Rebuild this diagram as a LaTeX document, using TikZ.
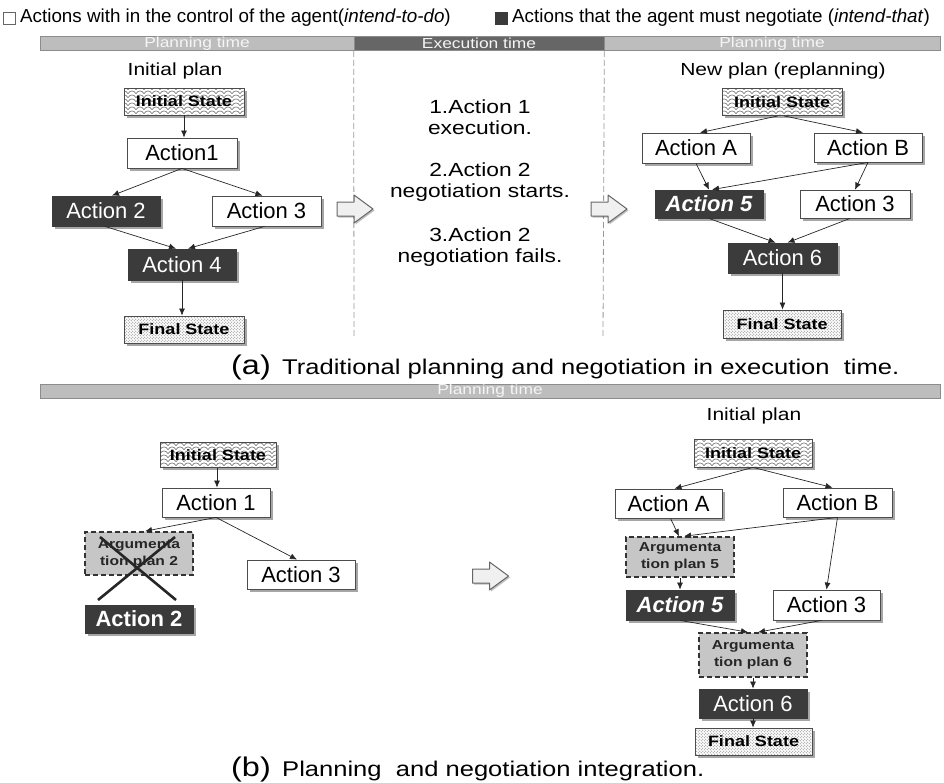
\documentclass[tikz,border=0pt]{standalone}
\usepackage{fontspec}
\setmainfont{Liberation Sans}
\newfontfamily\widefont{Liberation Sans}[FakeStretch=1.2]
\usetikzlibrary{arrows.meta,shadows,patterns}

% wavy hatching for initial states
\pgfdeclarepatternformonly{waves}{\pgfpoint{-1pt}{-1pt}}{\pgfpoint{9pt}{5pt}}{\pgfpoint{8pt}{4pt}}{
  \pgfsetlinewidth{0.7pt}
  \pgfpathmoveto{\pgfpoint{0pt}{0.3pt}}
  \pgfpathcurveto{\pgfpoint{2pt}{4pt}}{\pgfpoint{6pt}{4pt}}{\pgfpoint{8pt}{0.3pt}}
  \pgfusepath{stroke}}
% fine dots for final states
\pgfdeclarepatternformonly{finedots}{\pgfpoint{-1pt}{-1pt}}{\pgfpoint{4pt}{4pt}}{\pgfpoint{3pt}{3pt}}{
  \pgfpathcircle{\pgfpoint{0.75pt}{0.75pt}}{0.55pt}
  \pgfpathcircle{\pgfpoint{2.25pt}{2.25pt}}{0.55pt}
  \pgfusepath{fill}}

\definecolor{darkbox}{HTML}{3B3B3B}
\definecolor{barlight}{HTML}{BDBDBD}
\definecolor{bardark}{HTML}{666666}
\definecolor{argfill}{HTML}{C6C6C6}

\tikzset{
  shade box/.style={drop shadow={shadow xshift=2.5pt,shadow yshift=-2.5pt,opacity=0.35,fill=black}},
  act/.style={draw=black!70, fill=white, line width=0.8pt, minimum width=108pt,
    minimum height=29pt, inner sep=0pt, font=\fontsize{22}{24}\selectfont, shade box},
  neg/.style={act, fill=darkbox, draw=darkbox, text=white},
  negb/.style={neg, font=\fontsize{22}{24}\selectfont\bfseries},
  negbi/.style={neg, font=\fontsize{22}{24}\selectfont\bfseries\itshape},
  state/.style={draw=black!70, line width=0.8pt, minimum width=120pt, minimum height=27pt,
    inner sep=0pt, font=\widefont\fontsize{15}{17}\selectfont\bfseries, shade box,
    preaction={fill=white}},
  initst/.style={state, pattern=waves, pattern color=black!50},
  finalst/.style={state, pattern=finedots, pattern color=black!40},
  argbox/.style={draw=black!80, dashed, dash pattern=on 5pt off 3pt, line width=1.6pt,
    fill=argfill, minimum width=108pt, minimum height=42pt, inner sep=0pt, align=center,
    font=\widefont\fontsize{13}{17}\selectfont\bfseries, text=black!85},
  arr/.style={-{Latex[length=7pt,width=6pt]}, line width=0.7pt, draw=black!85},
  blockarrow/.style={draw=black!60, fill=black!6, line width=1pt, line join=round,
    drop shadow={shadow xshift=1.5pt,shadow yshift=-1.5pt,opacity=0.25,fill=black}},
  bar/.style={draw=black!45, line width=0.6pt, text=white!96!black,
    font=\widefont\fontsize{14.5}{15}\selectfont, inner sep=0pt},
  heading/.style={font=\widefont\fontsize{17.5}{20}\selectfont},
  steptext/.style={font=\widefont\fontsize{19}{21}\selectfont, align=center},
  legendtext/.style={font=\fontsize{18.8}{21}\selectfont, anchor=west, inner sep=0pt},
  captext/.style={font=\widefont\fontsize{21.3}{24}\selectfont, anchor=base west, inner sep=0pt},
  caplabel/.style={font=\widefont\fontsize{27}{30}\selectfont, anchor=base west, inner sep=0pt},
  cross/.style={line width=2.6pt, draw=black!85}
}

% hollow block arrow pointing right, centred on a named coordinate
\newcommand\blockarrowat[1]{%
  \draw[blockarrow] ([shift={(-18pt,-7pt)}]#1) -- ([shift={(-1pt,-7pt)}]#1)
    -- ([shift={(-1pt,-14pt)}]#1) -- ([shift={(18pt,0pt)}]#1)
    -- ([shift={(-1pt,14pt)}]#1) -- ([shift={(-1pt,7pt)}]#1)
    -- ([shift={(-18pt,7pt)}]#1) -- cycle;}

\begin{document}
\begin{tikzpicture}[x=1pt, y=-1pt]
\useasboundingbox (0,0) rectangle (944,782);

% ---- legend ----
\node[draw=black!60, fill=white, minimum size=12pt, inner sep=0pt] (keyA) at (9,18) {};
\node[legendtext] (keyAt) at (20,18) {Actions with in the control of the agent(\textit{intend-to-do})};
\node[draw=darkbox, fill=darkbox, minimum size=12pt, inner sep=0pt] (keyB) at (501,18) {};
\node[legendtext] (keyBt) at (512,18) {Actions that the agent must negotiate (\textit{intend-that})};

% ---- time bar of part (a) ----
\node[bar, fill=barlight, minimum width=314pt, minimum height=14pt] (barA1) at (197,43.5) {Planning time};
\node[bar, fill=bardark, minimum width=250pt, minimum height=14pt] (barA2) at (479,43.5) {Execution time};
\node[bar, fill=barlight, minimum width=336pt, minimum height=14pt] (barA3) at (772,43.5) {Planning time};

\coordinate (sepL) at (354,337);
\coordinate (sepR) at (603,337);
\draw[dashed, dash pattern=on 6pt off 3pt, black!40, line width=0.8pt] (barA2.south west) -- (sepL);
\draw[dashed, dash pattern=on 6pt off 3pt, black!40, line width=0.8pt] (barA2.south east) -- (sepR);

% ---- initial plan ----
\node[heading] (hA) at (175,71) {Initial plan};
\node[initst] (IS1) at (184,101.5) {Initial State};
\node[act, minimum width=110pt, minimum height=30pt] (A1) at (182,153) {Action1};
\node[neg, minimum height=30pt] (A2) at (106,211) {Action 2};
\node[act, minimum width=109pt, minimum height=30pt] (A3) at (266.5,211) {Action 3};
\node[neg, minimum height=31pt] (A4) at (182,264.5) {Action 4};
\node[finalst] (FS1) at (184,329.5) {Final State};

\draw[arr] (IS1) -- (IS1 |- A1.north);
\draw[arr] (A1.south) -- ([xshift=6pt]A2.north);
\draw[arr] (A1.south) -- ([xshift=-4pt]A3.north);
\draw[arr] ([xshift=-1pt]A2.south) -- ([xshift=-6pt]A4.north);
\draw[arr] ([xshift=-2pt]A3.south) -- ([xshift=6pt]A4.north);
\draw[arr] (A4.south) -- (A4.south |- FS1.north);

% ---- execution steps ----
\coordinate (pA) at (355,209);
\blockarrowat{pA}
\node[steptext] (s1) at (480,117) {1.Action 1\\execution.};
\node[steptext] (s2) at (480,182) {2.Action 2\\negotiation starts.};
\node[steptext] (s3) at (480,247) {3.Action 2\\negotiation fails.};
\coordinate (pB) at (609,209);
\blockarrowat{pB}

% ---- new plan ----
\node[heading] (hB) at (783,71) {New plan (replanning)};
\node[initst] (IS2) at (782,102) {Initial State};
\node[act, minimum height=30pt] (AA) at (696,148) {Action A};
\node[act] (AB) at (868,147.5) {Action B};
\node[negbi, minimum height=28pt] (A5) at (709,204) {Action 5};
\node[act, minimum width=110pt, minimum height=28pt] (A3r) at (855,204) {Action 3};
\node[neg, minimum width=109pt, minimum height=30pt] (A6) at (782.5,258) {Action 6};
\node[finalst, minimum width=118pt, minimum height=28pt] (FS2) at (782,324) {Final State};

\draw[arr] ([xshift=-4pt]IS2.south) -- ([xshift=4pt]AA.north);
\draw[arr] ([xshift=2pt]IS2.south) -- ([xshift=-5pt]AB.north);
\draw[arr] (AA.south) -- (A5.north);
\draw[arr] (AB.south) -- ([xshift=3pt]A5.north);
\draw[arr] (AB.south) -- (A3r.north);
\draw[arr] (A5.south) -- ([xshift=-7pt]A6.north);
\draw[arr] ([xshift=-5pt]A3r.south) -- ([xshift=5pt]A6.north);
\draw[arr] (A6.south) -- (A6.south |- FS2.north);

% ---- caption (a) ----
\node[caplabel] (capa) at (231,374) {(a)};
\node[captext] (capat) at (282,374) {Traditional planning and negotiation in execution\ \ time.};

% ---- time bar of part (b) ----
\node[bar, fill=barlight, minimum width=900pt, minimum height=14pt] (barB) at (490,391) {Planning time};

% ---- failed plan ----
\node[initst, minimum width=116pt, minimum height=25pt] (IS3) at (218,455) {Initial State};
\node[act] (B1) at (216,502.5) {Action 1};
\node[argbox, minimum height=43pt] (G2) at (139,553.5) {Argumenta\\tion plan 2};
\node[act] (B3) at (301,574.5) {Action 3};
\node[negb, minimum height=28pt] (B2) at (139,619) {Action 2};

\draw[arr] ([xshift=-1pt]IS3.south) -- ([xshift=-1pt]IS3.south |- B1.north);
\draw[arr] (B1.south) -- ([xshift=6pt]G2.north);
\draw[arr] (B1.south) -- ([xshift=-4pt]B3.north);

% the cancelled branch
\coordinate (xa) at (98,600);
\coordinate (xb) at (175,537);
\coordinate (xc) at (100,537);
\coordinate (xd) at (176,600);
\draw[cross] (xa) -- (xb);
\draw[cross] (xc) -- (xd);

\coordinate (pC) at (490.5,576);
\blockarrowat{pC}

% ---- integrated plan ----
\node[heading] (hC) at (754,416) {Initial plan};
\node[initst, minimum width=118pt, minimum height=28pt] (IS4) at (753,453) {Initial State};
\node[act, minimum width=107pt] (BA) at (668.5,503.5) {Action A};
\node[act, minimum width=109pt] (BB) at (837.5,502.5) {Action B};
\node[argbox, minimum height=40pt] (G5) at (680,557) {Argumenta\\tion plan 5};
\node[negbi, minimum height=30pt] (B5) at (680,605) {Action 5};
\node[act, minimum width=107pt, minimum height=30pt] (B3r) at (826.5,605) {Action 3};
\node[argbox, minimum height=44pt] (G6) at (753,655) {Argumenta\\tion plan 6};
\node[neg] (B6) at (753,703.5) {Action 6};
\node[finalst, minimum width=117pt] (FS4) at (753.5,741.5) {Final State};

\draw[arr] (IS4.south) -- ([xshift=6pt]BA.north);
\draw[arr] (IS4.south) -- ([xshift=-5pt]BB.north);
\draw[arr] ([xshift=2pt]BA.south) -- ([xshift=-1pt]G5.north);
\draw[arr] (BB.south) -- ([xshift=4pt]G5.north);
\draw[arr] (BB.south) -- (B3r.north);
\draw[arr] (G5.south) -- (B5.north);
\draw[arr] (B5.south) -- ([xshift=-5pt]G6.north);
\draw[arr] ([xshift=-5pt]B3r.south) -- ([xshift=5pt]G6.north);
\draw[arr] (G6.south) -- (B6.north);
\draw[arr] (B6.south) -- (B6.south |- FS4.north);

% ---- caption (b) ----
\node[caplabel] (capb) at (231,776) {(b)};
\node[captext] (capbt) at (282,776) {Planning\ \ and negotiation integration.};
\end{tikzpicture}
\end{document}
